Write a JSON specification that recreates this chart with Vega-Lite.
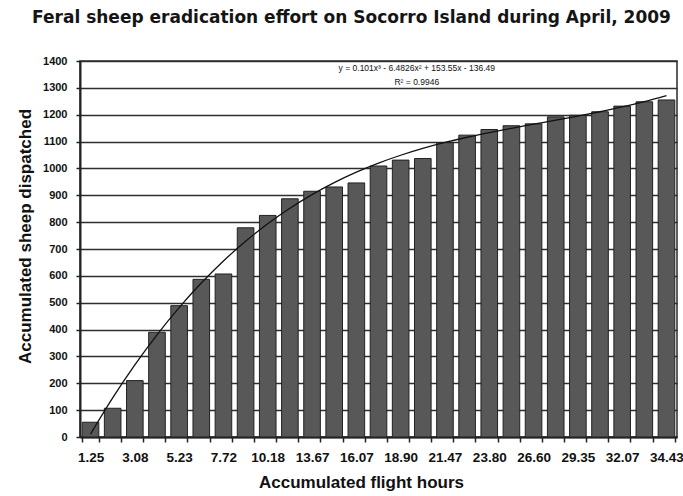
{
  "$schema": "https://vega.github.io/schema/vega-lite/v6.json",
  "autosize": {"type": "none"},
  "padding": {"left": 80, "top": 61, "right": 6, "bottom": 59},
  "width": 597,
  "height": 376,
  "background": "white",
  "view": {"stroke": "#2a2a2a", "strokeWidth": 1.5},
  "title": {
    "text": "Feral sheep eradication effort on Socorro Island during April, 2009",
    "font": "DejaVu Sans",
    "fontSize": 17,
    "fontWeight": "bold",
    "color": "#151515",
    "anchor": "middle",
    "frame": "group",
    "baseline": "alphabetic",
    "offset": 15,
    "dx": -27
  },
  "data": {
    "values": [
      {"hours": "1.25", "sheep": 55, "trend": 10.7},
      {"hours": "2.20", "sheep": 107, "trend": 145.5},
      {"hours": "3.08", "sheep": 210, "trend": 268.5},
      {"hours": "4.10", "sheep": 390, "trend": 380.5},
      {"hours": "5.23", "sheep": 489, "trend": 481.8},
      {"hours": "6.50", "sheep": 587, "trend": 573.3},
      {"hours": "7.72", "sheep": 607, "trend": 655.4},
      {"hours": "9.00", "sheep": 779, "trend": 728.7},
      {"hours": "10.18", "sheep": 825, "trend": 794.0},
      {"hours": "11.90", "sheep": 887, "trend": 851.8},
      {"hours": "13.67", "sheep": 915, "trend": 902.6},
      {"hours": "14.85", "sheep": 931, "trend": 947.1},
      {"hours": "16.07", "sheep": 946, "trend": 986.0},
      {"hours": "17.50", "sheep": 1009, "trend": 1019.8},
      {"hours": "18.90", "sheep": 1031, "trend": 1049.1},
      {"hours": "20.20", "sheep": 1037, "trend": 1074.5},
      {"hours": "21.47", "sheep": 1096, "trend": 1096.6},
      {"hours": "22.60", "sheep": 1124, "trend": 1116.1},
      {"hours": "23.80", "sheep": 1145, "trend": 1133.5},
      {"hours": "25.20", "sheep": 1159, "trend": 1149.5},
      {"hours": "26.60", "sheep": 1166, "trend": 1164.6},
      {"hours": "28.00", "sheep": 1192, "trend": 1179.5},
      {"hours": "29.35", "sheep": 1198, "trend": 1194.7},
      {"hours": "30.70", "sheep": 1211, "trend": 1211.0},
      {"hours": "32.07", "sheep": 1232, "trend": 1228.8},
      {"hours": "33.25", "sheep": 1248, "trend": 1248.8},
      {"hours": "34.43", "sheep": 1255, "trend": 1271.5}
    ]
  },
  "encoding": {
    "x": {
      "field": "hours",
      "type": "nominal",
      "sort": null,
      "scale": {"paddingInner": 0.25, "paddingOuter": 0.1},
      "axis": {
        "title": "Accumulated flight hours",
        "titleFont": "Liberation Sans",
        "titleFontSize": 17,
        "titleFontWeight": "bold",
        "titleColor": "#111",
        "titleX": 281,
        "titleY": 45,
        "titleBaseline": "middle",
        "labelAngle": 0,
        "labelFont": "Liberation Sans",
        "labelFontSize": 13.5,
        "labelFontWeight": "bold",
        "labelColor": "#111",
        "labelPadding": 8,
        "labelExpr": "indexof(['1.25','3.08','5.23','7.72','10.18','13.67','16.07','18.90','21.47','23.80','26.60','29.35','32.07','34.43'], datum.value) >= 0 ? datum.label : ''",
        "tickBand": "extent",
        "tickSize": 5,
        "tickColor": "#222",
        "tickWidth": 1.5,
        "domainColor": "#222",
        "domainWidth": 2,
        "grid": false
      }
    }
  },
  "layer": [
    {
      "mark": {"type": "bar", "fill": "#585858", "stroke": "#222", "strokeWidth": 1},
      "encoding": {
        "y": {
          "field": "sheep",
          "type": "quantitative",
          "scale": {"domain": [0, 1400], "nice": false},
          "axis": {
            "title": "Accumulated sheep dispatched",
            "titleFont": "Liberation Sans",
            "titleFontSize": 17,
            "titleFontWeight": "bold",
            "titleColor": "#111",
            "titleX": -55,
            "titleY": 175,
            "titleAngle": -90,
            "titleBaseline": "middle",
            "values": [0, 100, 200, 300, 400, 500, 600, 700, 800, 900, 1000, 1100, 1200, 1300, 1400],
            "format": "d",
            "labelOverlap": false,
            "labelFont": "Liberation Sans",
            "labelFontSize": 11,
            "labelFontWeight": "bold",
            "labelColor": "#111",
            "labelPadding": 9,
            "tickSize": 4,
            "tickColor": "#222",
            "tickWidth": 1.5,
            "domainColor": "#222",
            "domainWidth": 2,
            "grid": true,
            "gridColor": "#2e2e2e",
            "gridWidth": 1.7
          }
        }
      }
    },
    {
      "mark": {"type": "line", "color": "#111", "strokeWidth": 1.3, "interpolate": "monotone"},
      "encoding": {
        "y": {
          "field": "trend",
          "type": "quantitative",
          "axis": {
            "title": "Accumulated sheep dispatched",
            "titleFont": "Liberation Sans",
            "titleFontSize": 17,
            "titleFontWeight": "bold",
            "titleColor": "#111",
            "titleX": -55,
            "titleY": 175,
            "titleAngle": -90,
            "titleBaseline": "middle",
            "values": [0, 100, 200, 300, 400, 500, 600, 700, 800, 900, 1000, 1100, 1200, 1300, 1400],
            "format": "d",
            "labelOverlap": false,
            "labelFont": "Liberation Sans",
            "labelFontSize": 11,
            "labelFontWeight": "bold",
            "labelColor": "#111",
            "labelPadding": 9,
            "tickSize": 4,
            "tickColor": "#222",
            "tickWidth": 1.5,
            "domainColor": "#222",
            "domainWidth": 2,
            "grid": true,
            "gridColor": "#2e2e2e",
            "gridWidth": 1.7
          }
        }
      }
    },
    {
      "data": {
        "values": [
          {"hours": "20.20", "v": 1374, "label": "y = 0.101x³ - 6.4826x² + 153.55x - 136.49"},
          {"hours": "20.20", "v": 1322, "label": "R² = 0.9946"}
        ]
      },
      "mark": {"type": "text", "font": "Liberation Sans", "fontSize": 8.5, "color": "#111", "dx": -6, "baseline": "middle"},
      "encoding": {
        "y": {
          "field": "v",
          "type": "quantitative",
          "axis": {
            "title": "Accumulated sheep dispatched",
            "titleFont": "Liberation Sans",
            "titleFontSize": 17,
            "titleFontWeight": "bold",
            "titleColor": "#111",
            "titleX": -55,
            "titleY": 175,
            "titleAngle": -90,
            "titleBaseline": "middle",
            "values": [0, 100, 200, 300, 400, 500, 600, 700, 800, 900, 1000, 1100, 1200, 1300, 1400],
            "format": "d",
            "labelOverlap": false,
            "labelFont": "Liberation Sans",
            "labelFontSize": 11,
            "labelFontWeight": "bold",
            "labelColor": "#111",
            "labelPadding": 9,
            "tickSize": 4,
            "tickColor": "#222",
            "tickWidth": 1.5,
            "domainColor": "#222",
            "domainWidth": 2,
            "grid": true,
            "gridColor": "#2e2e2e",
            "gridWidth": 1.7
          }
        },
        "text": {"field": "label"}
      }
    }
  ]
}
